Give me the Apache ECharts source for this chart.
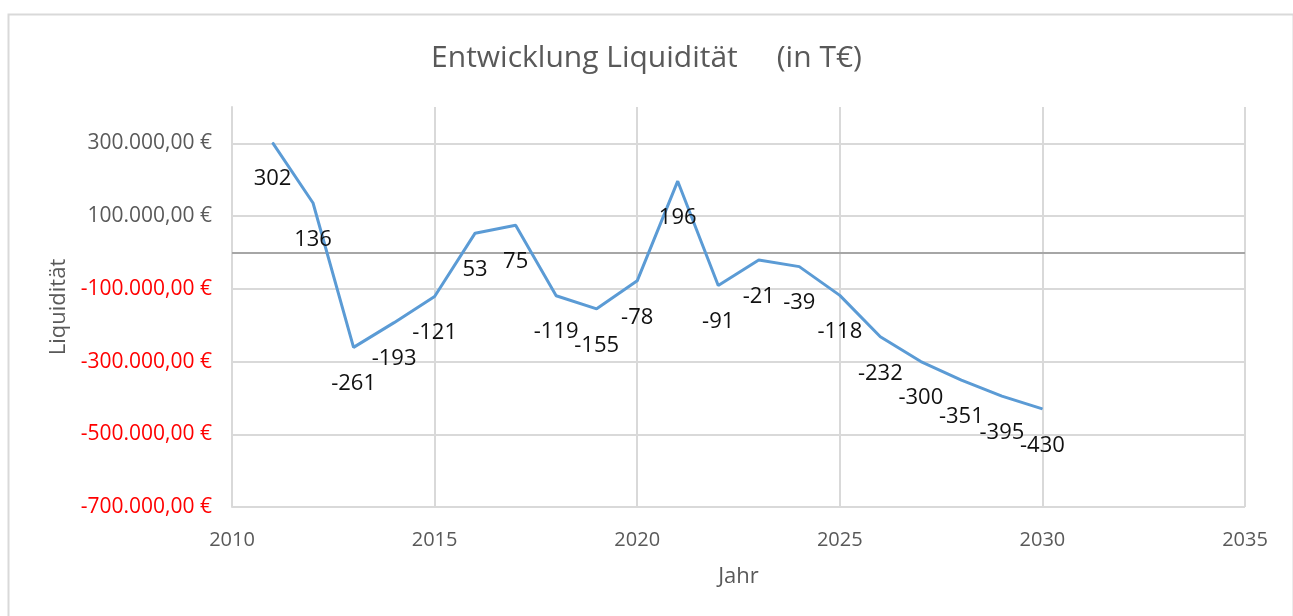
<!DOCTYPE html>
<html>
<head>
<meta charset="utf-8">
<script src="https://cdn.jsdelivr.net/npm/echarts@6/dist/echarts.min.js"></script>
<style>
    html, body { margin: 0; padding: 0; background: #fff; }
    #chart { width: 1293px; height: 616px; }
</style>
</head>
<body>
<div id="chart"></div>
<script>
// Jahre und Liquidität (in €), Beschriftung in T€
var years = [2011, 2012, 2013, 2014, 2015, 2016, 2017, 2018, 2019, 2020,
             2021, 2022, 2023, 2024, 2025, 2026, 2027, 2028, 2029, 2030];
var liquidity = [302000, 136000, -261000, -193000, -121000, 53000, 75000, -119000, -155000, -78000,
                 196000, -91000, -21000, -39000, -118000, -232000, -300000, -351000, -395000, -430000];
var yMin = -700000;
var yMax = 400000;
var yStep = 200000;
var xMin = 2010;
var xMax = 2035;
var xStep = 5;

var font = '"Open Sans", sans-serif';
var grey = '#595959';
var gridColor = '#d9d9d9';

// 300000 -> "300.000,00 €"
function euro(v) {
    var s = Math.abs(v).toFixed(0).replace(/\B(?=(\d{3})+(?!\d))/g, '.');
    return (v < 0 ? '-' : '') + s + ',00 €';
}

var chart = echarts.init(document.getElementById('chart'));
var points = years.map(function (y, i) {
    return [y, liquidity[i]];
});

var options = {
    backgroundColor: '#fff',
    animation: false,
    title: {
        text: 'Entwicklung Liquidität     (in T€)',
        left: 'center',
        top: 43,
        padding: 0,
        textStyle: {
            fontFamily: font,
            fontWeight: 'normal',
            fontSize: 30,
            color: grey
        }
    },
    graphic: [{
        type: 'rect',
        left: 6,
        top: 12,
        shape: { width: 1285, height: 620 },
        style: { fill: 'none', stroke: gridColor, lineWidth: 2 },
        silent: true
    }],
    grid: {
        left: 232,
        right: 48,
        top: 107,
        bottom: 109
    },
    xAxis: {
        type: 'value',
        min: xMin,
        max: xMax,
        interval: xStep,
        name: 'Jahr',
        nameLocation: 'middle',
        nameGap: 59,
        nameTextStyle: { fontFamily: font, fontSize: 22, color: grey },
        axisLine: { show: false },
        axisTick: { show: false },
        axisLabel: {
            margin: 23,
            fontFamily: font,
            fontSize: 20,
            color: grey,
            formatter: function (value) {
                return String(value);
            }
        },
        splitLine: {
            lineStyle: { color: gridColor, width: 2 }
        }
    },
    yAxis: {
        type: 'value',
        min: yMin,
        max: yMax,
        interval: yStep,
        name: 'Liquidität',
        nameLocation: 'middle',
        nameGap: 156,
        nameTextStyle: { fontFamily: font, fontSize: 22, color: grey },
        axisLine: { show: true, lineStyle: { color: gridColor, width: 2 } },
        axisTick: { show: false },
        axisLabel: {
            margin: 20,
            showMaxLabel: false,
            fontFamily: font,
            fontSize: 21,
            color: function (value) {
                return value < 0 ? '#ff0000' : grey;
            },
            formatter: function (value) {
                return euro(value);
            }
        },
        splitLine: {
            showMaxLine: false,
            lineStyle: { color: gridColor, width: 2 }
        }
    },
    series: [{
        name: 'Liquidität',
        type: 'line',
        data: points,
        symbol: 'circle',
        symbolSize: 1,
        showSymbol: true,
        itemStyle: { color: '#5b9bd5' },
        lineStyle: { color: '#5b9bd5', width: 3 },
        label: {
            show: true,
            position: 'bottom',
            distance: 25,
            fontFamily: font,
            fontSize: 22,
            color: '#111',
            formatter: function (p) {
                return Math.round(p.value[1] / 1000);
            }
        },
        markLine: {
            silent: true,
            z: 1,
            symbol: 'none',
            label: { show: false },
            lineStyle: { color: '#a6a6a6', width: 2, type: 'solid' },
            data: [{ yAxis: 0 }]
        },
        z: 3
    }]
};

chart.setOption(options);
</script>
</body>
</html>
